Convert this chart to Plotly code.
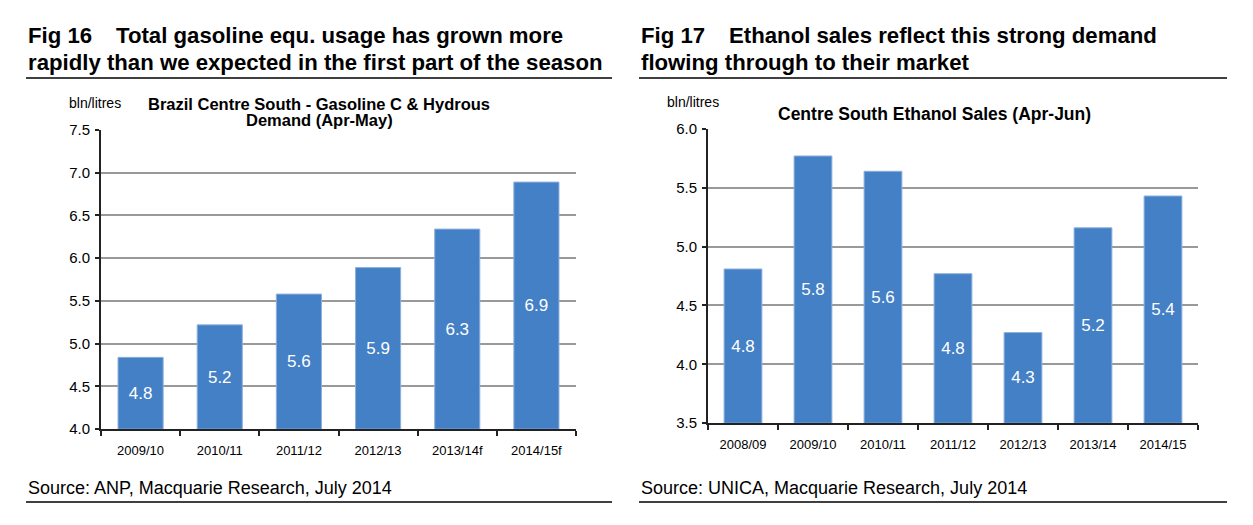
import plotly.graph_objects as go

# ---- data ----
seasons_16 = ["2009/10", "2010/11", "2011/12", "2012/13", "2013/14f", "2014/15f"]
demand_16 = [4.84, 5.22, 5.58, 5.89, 6.34, 6.89]
ticks_16 = [4.0, 4.5, 5.0, 5.5, 6.0, 6.5, 7.0, 7.5]

seasons_17 = ["2008/09", "2009/10", "2010/11", "2011/12", "2012/13", "2013/14", "2014/15"]
sales_17 = [4.81, 5.77, 5.64, 4.77, 4.27, 5.16, 5.43]
ticks_17 = [3.5, 4.0, 4.5, 5.0, 5.5, 6.0]

W, H = 1253, 525
FONT = "Arial, Liberation Sans, Helvetica, sans-serif"
BLUE = "#4480C5"

# page offset seen in the photographed output
OFF_X, OFF_Y, SCALE_Y = 9, 15.8, 0.97


def px(x):
    return (x - OFF_X) / W


def py(y):
    return 1 - ((y - OFF_Y) / SCALE_Y) / H


fig = go.Figure()

# bars start at the bottom of the value axis
base_16 = ticks_16[0]
base_17 = ticks_17[0]

fig.add_trace(go.Bar(
    x=seasons_16, y=[v - base_16 for v in demand_16], base=base_16,
    text=[f"{v:.1f}" for v in demand_16], textposition="inside",
    insidetextanchor="middle", textfont=dict(color="white", size=17, family=FONT),
    marker=dict(color=BLUE, line=dict(color="#8DB0DC", width=1)),
    width=0.57, xaxis="x", yaxis="y", showlegend=False,
))
fig.add_trace(go.Bar(
    x=seasons_17, y=[v - base_17 for v in sales_17], base=base_17,
    text=[f"{v:.1f}" for v in sales_17], textposition="inside",
    insidetextanchor="middle", textfont=dict(color="white", size=17, family=FONT),
    marker=dict(color=BLUE, line=dict(color="#8DB0DC", width=1)),
    width=0.54, xaxis="x2", yaxis="y2", showlegend=False,
))

xax = dict(type="category", showline=True, linecolor="#222", linewidth=2,
           ticks="outside", tickson="boundaries", ticklen=5, tickwidth=1.5,
           tickcolor="#222", showgrid=False, ticklabelstandoff=8,
           tickfont=dict(size=13, color="black", family=FONT))
yax = dict(showline=True, linecolor="#222", linewidth=2, ticks="outside", ticklen=4,
           tickwidth=1.5, tickcolor="#222", showgrid=True, gridcolor="#999999", gridwidth=1.5,
           tickformat=".1f", zeroline=False, ticklabelstandoff=2,
           tickfont=dict(size=15, color="black", family=FONT))

fig.update_layout(
    width=W, height=H, margin=dict(l=0, r=0, t=0, b=0),
    paper_bgcolor="white", plot_bgcolor="white",
    font=dict(family=FONT, color="black"),
    xaxis=dict(xax, domain=[px(102), px(577)], anchor="y"),
    yaxis=dict(yax, domain=[py(429), py(129)], range=[ticks_16[0], ticks_16[-1]],
               tickvals=ticks_16, anchor="x"),
    xaxis2=dict(xax, domain=[px(709), px(1199)], anchor="y2"),
    yaxis2=dict(yax, domain=[py(423), py(128)], range=[ticks_17[0], ticks_17[-1]],
                tickvals=ticks_17, anchor="x2"),
)

ann = []


def text(x, y, s, size, bold=False, anchor="left"):
    ann.append(dict(x=px(x), y=py(y), xref="paper", yref="paper", text=f"<b>{s}</b>" if bold else s,
                    showarrow=False, xanchor=anchor, yanchor="middle",
                    font=dict(size=size, family=FONT, color="black")))


# headings
text(27, 34, "Fig 16", 22.2, True)
text(115, 34, "Total gasoline equ. usage has grown more", 22.2, True)
text(27, 61, "rapidly than we expected in the first part of the season", 22.2, True)
text(640, 34, "Fig 17", 22.2, True)
text(728, 34, "Ethanol sales reflect this strong demand", 22.2, True)
text(640, 61, "flowing through to their market", 22.2, True)

# chart titles and units
text(68, 102, "bln/litres", 14)
text(320, 103, "Brazil Centre South - Gasoline C &amp; Hydrous", 16.5, True, "center")
text(320, 119, "Demand (Apr-May)", 16.5, True, "center")
text(666, 101, "bln/litres", 14)
text(935, 113, "Centre South Ethanol Sales (Apr-Jun)", 17.5, True, "center")

# sources
text(27, 488, "Source: ANP, Macquarie Research, July 2014", 18)
text(640, 488, "Source: UNICA, Macquarie Research, July 2014", 18)

fig.update_layout(annotations=ann)

# rules under headings and sources
for x0, x1 in [(27, 613), (640, 1228)]:
    for y in (77, 502):
        fig.add_shape(type="line", xref="paper", yref="paper", x0=px(x0), x1=px(x1),
                      y0=py(y), y1=py(y), line=dict(color="black", width=1.5))

fig.write_html("out.html")
